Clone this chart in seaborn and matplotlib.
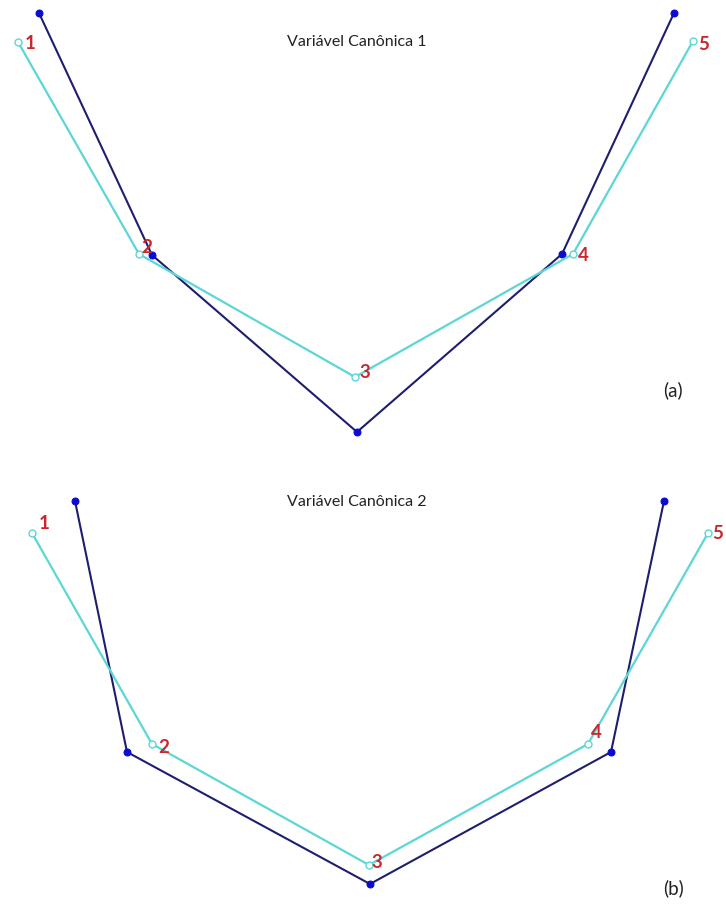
import matplotlib
matplotlib.use("Agg")
import matplotlib.pyplot as plt
import seaborn as sns
import pandas as pd

sns.set_theme(style="white")
plt.rcParams['font.family'] = ['Lato', 'DejaVu Sans']

point_labels = ["1", "2", "3", "4", "5"]

# Canonical variable 1 scores
cv1_ref_x = [-3.18, -2.05, 0.00, 2.05, 3.17]
cv1_ref_y = [4.19, 1.77, 0.00, 1.78, 4.19]
cv1_obs_x = [-3.39, -2.18, -0.02, 2.16, 3.36]
cv1_obs_y = [3.90, 1.78, 0.55, 1.78, 3.91]

# Canonical variable 2 scores
cv2_ref_x = [-2.82, -2.30, 0.13, 2.54, 3.07]
cv2_ref_y = [3.83, 1.32, 0.00, 1.32, 3.83]
cv2_obs_x = [-3.25, -2.05, 0.12, 2.31, 3.51]
cv2_obs_y = [3.51, 1.40, 0.19, 1.40, 3.51]

label_offsets_1 = [(12, -1), (8, 7), (10, 5), (10, -1), (11, -3)]
label_offsets_2 = [(12, 10), (12, -3), (8, 3), (8, 12), (10, 0)]

NAVY = "#1e1e6e"
DOT = "#0a0ad0"
CYAN = "#5cd6d6"
RED = "#c8282d"

fig = plt.figure(figsize=(7.26, 9.2), dpi=100)
ax1 = fig.add_axes([0, 0.5, 1, 0.5])
ax2 = fig.add_axes([0, 0.0, 1, 0.5])


def draw_panel(ax, rx, ry, ox, oy, offsets, title, tag, tag_y, ylim):
    ref = pd.DataFrame({"x": rx, "y": ry})
    obs = pd.DataFrame({"x": ox, "y": oy})
    sns.lineplot(data=ref, x="x", y="y", sort=False, ax=ax, color=NAVY,
                 linewidth=1.5, marker="o", markersize=5,
                 markerfacecolor=DOT, markeredgecolor=DOT, zorder=2)
    sns.lineplot(data=obs, x="x", y="y", sort=False, ax=ax, color=CYAN,
                 linewidth=1.6, marker="o", markersize=5,
                 markerfacecolor="white", markeredgecolor=CYAN,
                 markeredgewidth=1.0, zorder=3)
    for lab, x, y, (dx, dy) in zip(point_labels, ox, oy, offsets):
        ax.annotate(lab, (x, y), xytext=(dx, dy), textcoords="offset pixels",
                    ha="center", va="center", color=RED, fontsize=13.5,
                    fontweight="bold", zorder=4)
    ax.text(0.0, ylim[1] - 0.42, title, ha="center", va="center",
            fontsize=11.5, color="#222222")
    ax.text(3.16, tag_y, tag, ha="center", va="center",
            fontsize=13.5, color="#222222")
    ax.set_xlim(-3.57, 3.69)
    ax.set_ylim(*ylim)
    ax.set_axis_off()


draw_panel(ax1, cv1_ref_x, cv1_ref_y, cv1_obs_x, cv1_obs_y, label_offsets_1,
           "Variável Canônica 1", "(a)", 0.43, (-0.27, 4.33))
draw_panel(ax2, cv2_ref_x, cv2_ref_y, cv2_obs_x, cv2_obs_y, label_offsets_2,
           "Variável Canônica 2", "(b)", -0.03, (-0.35, 4.25))

fig.savefig("out.png", dpi=100, facecolor="white")
